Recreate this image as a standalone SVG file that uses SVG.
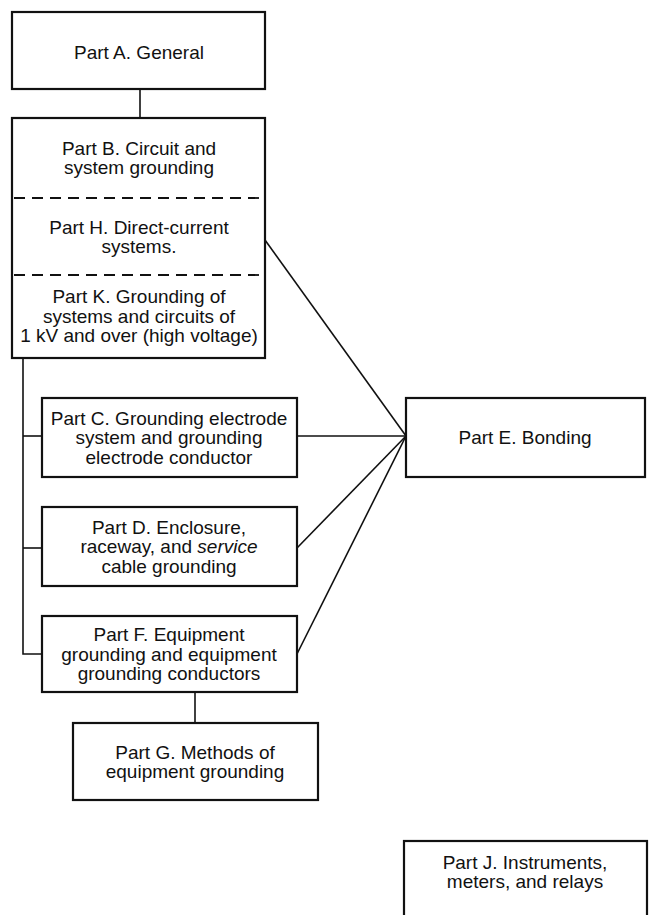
<svg xmlns="http://www.w3.org/2000/svg" width="649" height="915" viewBox="0 0 649 915">
<style>
.box{fill:#fff;stroke:#111;stroke-width:2.2}
.dash{stroke:#111;stroke-width:1.8;stroke-dasharray:11 7;fill:none}
.wire{stroke:#111;stroke-width:1.6;fill:none}
text{font-family:"Liberation Sans",Arial,Helvetica,sans-serif;font-size:19px;fill:#111;text-anchor:middle}
</style>
<rect width="649" height="915" fill="#fff"/>
<g id="connectors">
<line class="wire" x1="140" y1="89" x2="140" y2="118"/>
<polyline class="wire" points="23,358 23,654 42,654"/>
<line class="wire" x1="23" y1="436" x2="42" y2="436"/>
<line class="wire" x1="23" y1="548" x2="42" y2="548"/>
<line class="wire" x1="265" y1="240" x2="406" y2="436"/>
<line class="wire" x1="297" y1="436" x2="406" y2="436"/>
<line class="wire" x1="297" y1="548" x2="406" y2="436"/>
<line class="wire" x1="297" y1="654" x2="406" y2="436"/>
<line class="wire" x1="195" y1="692" x2="195" y2="723"/>
</g>
<g id="partA">
<rect class="box" x="12" y="12" width="253" height="77"/>
<text x="139" y="59">Part A. General</text>
</g>
<g id="partBHK">
<rect class="box" x="12" y="118" width="253" height="240"/>
<line class="dash" x1="14" y1="198" x2="263" y2="198"/>
<line class="dash" x1="14" y1="275" x2="263" y2="275"/>
<g id="partB">
<text x="139" y="154.5">Part B. Circuit and</text>
<text x="139" y="174">system grounding</text>
</g>
<g id="partH">
<text x="139" y="233.5">Part H. Direct-current</text>
<text x="139" y="253">systems.</text>
</g>
<g id="partK">
<text x="139" y="303">Part K. Grounding of</text>
<text x="139" y="322.5">systems and circuits of</text>
<text x="139" y="342">1 kV and over (high voltage)</text>
</g>
</g>
<g id="partC">
<rect class="box" x="42" y="398" width="255" height="79"/>
<text x="169" y="424.5">Part C. Grounding electrode</text>
<text x="169" y="444">system and grounding</text>
<text x="169" y="463.5">electrode conductor</text>
</g>
<g id="partD">
<rect class="box" x="42" y="507" width="255" height="79"/>
<text x="169" y="533.5">Part D. Enclosure,</text>
<text x="169" y="553">raceway, and <tspan font-style="italic">service</tspan></text>
<text x="169" y="572.5">cable grounding</text>
</g>
<g id="partF">
<rect class="box" x="42" y="616" width="255" height="76"/>
<text x="169" y="641">Part F. Equipment</text>
<text x="169" y="660.5">grounding and equipment</text>
<text x="169" y="680">grounding conductors</text>
</g>
<g id="partG">
<rect class="box" x="73" y="723" width="245" height="77"/>
<text x="195" y="758.5">Part G. Methods of</text>
<text x="195" y="778">equipment grounding</text>
</g>
<g id="partE">
<rect class="box" x="406" y="398" width="239" height="79"/>
<text x="525" y="444">Part E. Bonding</text>
</g>
<g id="partJ">
<rect class="box" x="404" y="841" width="243" height="90"/>
<text x="525" y="868.5">Part J. Instruments,</text>
<text x="525" y="888">meters, and relays</text>
</g>
</svg>
